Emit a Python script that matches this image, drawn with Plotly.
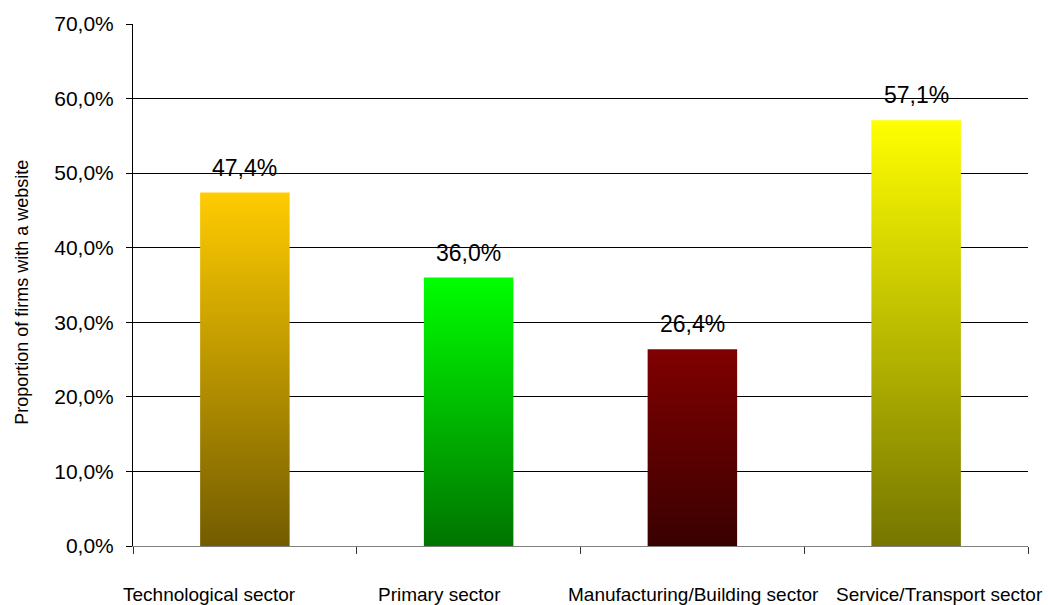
import plotly.graph_objects as go

# Share of firms with a website, by sector
categories = [
    "Technological sector",
    "Primary sector",
    "Manufacturing/Building sector",
    "Service/Transport sector",
]
shares = [47.4, 36.0, 26.4, 57.1]

# gradient colours per bar (top -> bottom)
top_colors = ["#FFCC00", "#00FF00", "#800000", "#FFFF00"]
bottom_colors = ["#735C00", "#007400", "#3A0000", "#767600"]

y_ticks = [0, 10, 20, 30, 40, 50, 60, 70]
y_tick_labels = ["0,0%", "10,0%", "20,0%", "30,0%", "40,0%", "50,0%", "60,0%", "70,0%"]

FONT = "Liberation Sans, Arial, sans-serif"
BAR_WIDTH = 0.4

fig = go.Figure()

for i, (cat, v, top, bottom) in enumerate(zip(categories, shares, top_colors, bottom_colors)):
    x0, x1 = i - BAR_WIDTH / 2, i + BAR_WIDTH / 2
    fig.add_trace(go.Scatter(
        x=[x0, x1, x1, x0, x0],
        y=[0, 0, v, v, 0],
        fill="toself",
        mode="lines",
        line=dict(width=0),
        fillgradient=dict(type="vertical", colorscale=[[0, bottom], [1, top]]),
        name=cat,
        showlegend=False,
        hoverinfo="skip",
    ))

annotations = []
# value labels above bars
for i, v in enumerate(shares):
    annotations.append(dict(
        x=i, y=v, xref="x", yref="y",
        text=f"{v:.1f}%".replace(".", ","),
        showarrow=False, xanchor="center", yanchor="bottom", yshift=10,
        font=dict(family=FONT, size=23, color="black"),
    ))

# category labels under the axis
label_pos = [0.085, 0.342, 0.626, 0.901]
for cat, px in zip(categories, label_pos):
    annotations.append(dict(
        x=px, y=0, xref="paper", yref="paper",
        text=cat, showarrow=False, xanchor="center", yanchor="top", yshift=-36,
        font=dict(family=FONT, size=19, color="black"),
    ))

# y-axis title
annotations.append(dict(
    x=-0.124, y=0.485, xref="paper", yref="paper",
    text="Proportion of firms with a website", textangle=-90,
    showarrow=False, xanchor="center", yanchor="middle",
    font=dict(family=FONT, size=18, color="black"),
))

fig.update_layout(
    width=1048, height=605,
    margin=dict(l=133, r=20, t=20, b=59),
    paper_bgcolor="white", plot_bgcolor="white",
    showlegend=False,
    annotations=annotations,
    xaxis=dict(
        range=[-0.5, 3.5],
        tickvals=[-0.5, 0.5, 1.5, 2.5, 3.5],
        ticktext=["", "", "", "", ""],
        ticks="outside", ticklen=7, tickcolor="#333333", tickwidth=1,
        showline=True, linecolor="#808080", linewidth=1,
        showgrid=False, zeroline=False, fixedrange=True,
    ),
    yaxis=dict(
        range=[0, 70],
        tickvals=y_ticks,
        ticktext=y_tick_labels,
        ticks="outside", ticklen=6, tickcolor="black", tickwidth=1,
        showline=True, linecolor="black", linewidth=1,
        showgrid=True, gridcolor="black", gridwidth=1,
        zeroline=False, fixedrange=True,
        ticklabelstandoff=8,
        tickfont=dict(family=FONT, size=21, color="black"),
    ),
)

fig.write_html("out.html")
